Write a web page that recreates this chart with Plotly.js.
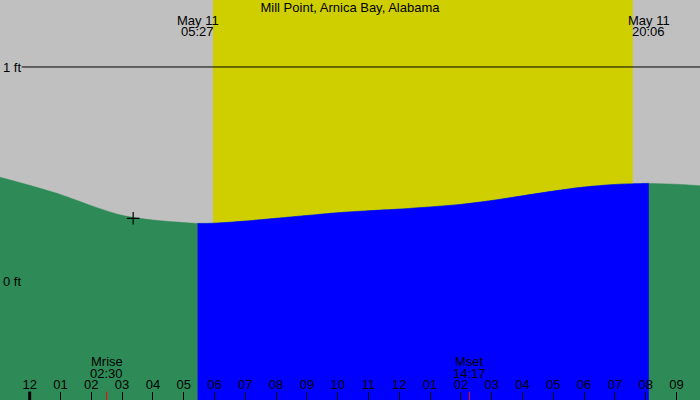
<!DOCTYPE html>
<html>
<head>
<meta charset="utf-8">
<script src="https://cdn.plot.ly/plotly-3.0.1.min.js"></script>
<style>html,body{margin:0;padding:0;background:#c0c0c0}#chart{width:700px;height:400px}</style>
</head>
<body>
<div id="chart"></div>
<script>
// ---- data (hours since midnight May 11, tide height in ft) ----
const tideHours = [-1, 0, 1, 2, 3, 4, 5, 5.45, 6, 7, 8, 9, 10, 11, 12, 13, 14, 15, 16, 17, 18, 19, 20, 20.1, 21, 22];
const tideFeet  = [0.486, 0.447, 0.404, 0.352, 0.307, 0.285, 0.273, 0.269, 0.270, 0.280, 0.293, 0.306, 0.319, 0.328, 0.336, 0.346, 0.358, 0.376, 0.398, 0.420, 0.439, 0.451, 0.456, 0.456, 0.452, 0.443];
const sunHours = [5.45, 20.1];          // 05:27, 20:06
const sunDates = ["May 11", "May 11"];
const sunTimes = ["05:27", "20:06"];
const dayShade = [5.95, 19.58];
const moonHours = [2.5, 14.283];
const moonEvents = ["Mrise", "Mset"];
const moonTimes = ["02:30", "14:17"];
const markerHour = [3.36];
const markerFeet = [0.293];
const hourTicks = [0,1,2,3,4,5,6,7,8,9,10,11,12,13,14,15,16,17,18,19,20,21];
const hourTickText = ["12","01","02","03","04","05","06","07","08","09","10","11","12","01","02","03","04","05","06","07","08","09"];
const feetTicks = [0, 1];
const feetTickText = ["0 ft", "1 ft"];
const title = "Mill Point, Arnica Bay, Alabama";

const X_RANGE = [-0.964, 21.763];
const Y_RANGE = [-0.556, 1.313];

const sunriseHour = sunHours[0], sunsetHour = sunHours[1];
const dayIdx = tideHours.map((h,i)=>i).filter(i => tideHours[i] >= sunriseHour && tideHours[i] <= sunsetHour);
const dayHours = dayIdx.map(i => tideHours[i]);
const dayFeet = dayIdx.map(i => tideFeet[i]);

const FONT = 'Liberation Sans, Arial, sans-serif';

const traces = [
  {x: tideHours, y: tideHours.map(()=>Y_RANGE[0]), mode:'lines', line:{width:0}, hoverinfo:'skip', showlegend:false},
  {x: tideHours, y: tideFeet, mode:'lines', fill:'tonexty', fillcolor:'#2e8b57', line:{color:'#2e8b57', width:0.5, shape:'spline', smoothing:0.8}, hoverinfo:'skip', showlegend:false},
  {x: dayHours, y: dayHours.map(()=>Y_RANGE[0]), mode:'lines', line:{width:0}, hoverinfo:'skip', showlegend:false},
  {x: dayHours, y: dayFeet, mode:'lines', fill:'tonexty', fillcolor:'#0000ff', line:{color:'#0000ff', width:0.5, shape:'spline', smoothing:0.8}, hoverinfo:'skip', showlegend:false},
  {x: markerHour, y: markerFeet, mode:'markers', marker:{symbol:'cross-thin', size:9, line:{color:'#000', width:1.2}}, hoverinfo:'skip', showlegend:false}
];

const shapes = [
  {type:'rect', xref:'x', yref:'paper', x0:dayShade[0], x1:dayShade[1], y0:0, y1:1, fillcolor:'#cfcf00', line:{width:0}, layer:'below'},
  {type:'line', xref:'paper', yref:'y', x0:0.031, x1:1, y0:feetTicks[1], y1:feetTicks[1], line:{color:'#000', width:1}, layer:'between'},
  {type:'line', xref:'x', yref:'paper', x0:hourTicks[0], x1:hourTicks[0], y0:0, y1:0.021, line:{color:'#000', width:3}, layer:'above'}
];
moonHours.forEach(h => shapes.push({type:'line', xref:'x', yref:'paper', x0:h, x1:h, y0:0, y1:0.021, line:{color:'#ff0000', width:1}, layer:'above'}));

const annotations = [];
function addText(x, y, text) {
  annotations.push({x:x, xref:'x', y:y, yref:'paper', yanchor:'middle', xanchor:'center', text:text, showarrow:false,
                    font:{family:FONT, size:13, color:'#000'}});
}
sunHours.forEach((h,i) => { addText(h, 0.950, sunDates[i]); addText(h, 0.921, sunTimes[i]); });
moonHours.forEach((h,i) => { addText(h, 0.0958, moonEvents[i]); addText(h, 0.0668, moonTimes[i]); });

const layout = {
  width:700, height:400,
  margin:{l:0, r:0, t:0, b:0, pad:0},
  paper_bgcolor:'#c0c0c0', plot_bgcolor:'#c0c0c0',
  title:{text:title, x:0.5, xanchor:'center', y:0.982, yanchor:'middle', yref:'container', font:{family:FONT, size:13, color:'#000'}},
  font:{family:FONT, size:13, color:'#000'},
  xaxis:{range:X_RANGE, tickmode:'array', tickvals:hourTicks, ticktext:hourTickText, ticks:'inside', ticklen:8, tickcolor:'#000', tickwidth:1,
         ticklabelposition:'inside', showgrid:false, zeroline:false, showline:false, tickfont:{family:FONT, size:13, color:'#000'}, fixedrange:true},
  yaxis:{range:Y_RANGE, tickmode:'array', tickvals:feetTicks, ticktext:feetTickText, ticks:'', ticklabelposition:'inside', showgrid:false, zeroline:false, showline:false,
         tickfont:{family:FONT, size:13, color:'#000'}, fixedrange:true},
  shapes:shapes, annotations:annotations, showlegend:false
};

Plotly.newPlot('chart', traces, layout, {staticPlot:true, displayModeBar:false});
</script>
</body>
</html>
